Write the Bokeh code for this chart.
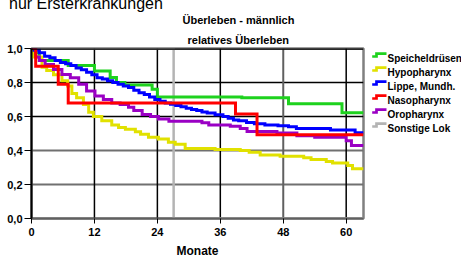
from bokeh.plotting import figure
from bokeh.models import Range1d, FixedTicker, Span, Title, Div
from bokeh.layouts import row
from bokeh.core.properties import value
from bokeh.embed import file_html
from bokeh.resources import INLINE

# ---------------- data ----------------
month_ticks = [0, 12, 24, 36, 48, 60]
surv_ticks = [0.0, 0.2, 0.4, 0.6, 0.8, 1.0]
surv_tick_labels = ["0,0", "0,2", "0,4", "0,6", "0,8", "1,0"]
x_end = 63.3

series_names = ["Speicheldrüsen", "Hypopharynx", "Lippe, Mundh.",
                "Nasopharynx", "Oropharynx", "Sonstige Lok"]

speichel_t = [0, 0.5, 1.5, 7.0, 12.0, 15.0, 16.2, 17.8, 23.0, 24.0, 40.1, 49.0, 59.2, 63.3]
speichel_s = [1.0, 0.975, 0.93, 0.90, 0.868, 0.83, 0.80, 0.785, 0.76, 0.715, 0.71, 0.675, 0.622, 0.622]

hypo_t = [0, 0.3, 2.0, 2.9, 4.2, 5.8, 6.9, 7.7, 8.6, 9.9,
          10.9, 11.8, 13.4, 15.3, 16.6, 17.9, 19.8, 20.8, 22.3, 24.2,
          26.1, 27.4, 29.3, 35.0, 39.8, 41.5, 43.6, 47.4, 51.9, 53.3,
          56.2, 57.4, 60.3, 61.2, 63.3]
hypo_s = [1.0, 0.95, 0.89, 0.87, 0.845, 0.81, 0.78, 0.735, 0.71, 0.67,
          0.625, 0.60, 0.575, 0.55, 0.535, 0.525, 0.51, 0.495, 0.478, 0.468,
          0.448, 0.437, 0.412, 0.406, 0.40, 0.39, 0.373, 0.366, 0.357, 0.347,
          0.336, 0.326, 0.312, 0.292, 0.292]

lippe_t = [0, 0.5, 1.5, 2.5, 3.5, 4.5, 5.5, 6.5, 7.5, 8.5,
           9.5, 10.5, 11.5, 12.5, 13.5, 14.5, 15.5, 16.5, 17.5, 18.5,
           19.5, 20.5, 21.5, 22.5, 23.5, 24.5, 25.5, 26.5, 27.5, 28.5,
           29.5, 30.5, 31.5, 32.5, 33.5, 35.0, 36.5, 37.5, 38.5, 39.5,
           41.0, 42.5, 44.5, 47.0, 49.0, 50.5, 57.0, 61.7, 63.3]
lippe_s = [1.0, 0.99, 0.975, 0.955, 0.945, 0.93, 0.918, 0.91, 0.90, 0.885,
           0.875, 0.86, 0.845, 0.828, 0.82, 0.81, 0.80, 0.79, 0.78, 0.77,
           0.755, 0.74, 0.73, 0.715, 0.70, 0.69, 0.68, 0.672, 0.665, 0.657,
           0.648, 0.641, 0.635, 0.627, 0.62, 0.61, 0.60, 0.59, 0.58, 0.575,
           0.565, 0.558, 0.55, 0.545, 0.54, 0.53, 0.52, 0.505, 0.505]

naso_t = [0, 0.8, 5.1, 7.0, 38.9, 43.0, 63.3]
naso_s = [1.0, 0.895, 0.79, 0.68, 0.615, 0.493, 0.493]

oro_t = [0, 0.8, 1.5, 2.6, 4.2, 5.8, 7.4, 9.0, 10.5, 12.1,
         13.7, 15.3, 16.9, 18.5, 19.5, 21.1, 22.7, 24.2, 26.2, 32.5,
         33.8, 37.9, 39.8, 41.1, 46.8, 50.6, 54.0, 60.0, 61.0, 63.3]
oro_s = [1.0, 0.95, 0.93, 0.906, 0.876, 0.847, 0.828, 0.79, 0.75, 0.72,
         0.70, 0.68, 0.67, 0.655, 0.635, 0.612, 0.60, 0.585, 0.572, 0.563,
         0.55, 0.543, 0.53, 0.512, 0.503, 0.487, 0.478, 0.458, 0.43, 0.43]

sonst_t = [0, 27.1, 63.3]
sonst_s = [1.0, 0.0, 0.0]

# ---------------- styles / layout ----------------
FONT = "Liberation Sans"
colors = ["#1ed21e", "#e1e100", "#0000ff", "#ff0000", "#9a00c4", "#b4b4b4"]

MAIN_W, LEG_W, H = 365, 96, 260
B_LEFT, B_RIGHT, B_TOP, B_BOTTOM = 31, 2, 48, 42

p = figure(width=MAIN_W, height=H, output_backend="svg", toolbar_location=None,
           title=None, x_range=Range1d(0, x_end), y_range=Range1d(0, 1.0),
           min_border_left=B_LEFT, min_border_right=B_RIGHT,
           min_border_top=B_TOP, min_border_bottom=B_BOTTOM)
p.outline_line_color = "#808080"
p.outline_line_width = 2.5
p.xgrid.visible = False
p.ygrid.visible = False
p.background_fill_color = "white"
p.border_fill_color = "white"

# grid lines
hgrid_style = {0.2: ("#707070", 2), 0.4: ("#707070", 2), 0.6: ("black", 1.5), 0.8: ("black", 1.5)}
for v in surv_ticks:
    if v in hgrid_style:
        c, w = hgrid_style[v]
        p.add_layout(Span(location=v, dimension="width", line_color=c,
                          line_width=w, level="underlay"))
vgrid_style = {12: ("black", 1.5), 24: ("black", 1.5), 36: ("black", 1.5),
               48: ("#606060", 2), 60: ("black", 1.5)}
for v in month_ticks:
    if v in vgrid_style:
        c, w = vgrid_style[v]
        p.add_layout(Span(location=v, dimension="height", line_color=c,
                          line_width=w, level="underlay"))
# top frame edge in black
p.add_layout(Span(location=1.0, dimension="width", line_color="black", line_width=2.5))

# curves
all_t = [speichel_t, hypo_t, lippe_t, naso_t, oro_t, sonst_t]
all_s = [speichel_s, hypo_s, lippe_s, naso_s, oro_s, sonst_s]
order = [5, 0, 1, 2, 4, 3]
for i in order:
    p.step(all_t[i], all_s[i], mode="after", line_color=colors[i],
           line_width=3 if i != 5 else 2.5, line_join="miter")

# axes
p.xaxis.ticker = FixedTicker(ticks=month_ticks)
p.yaxis.ticker = FixedTicker(ticks=surv_ticks)
p.yaxis.major_label_overrides = dict(zip(surv_ticks, surv_tick_labels))
for ax in (p.xaxis[0], p.yaxis[0]):
    ax.minor_tick_line_color = None
    ax.major_tick_in = 0
    ax.major_tick_line_color = "black"
    ax.major_tick_line_width = 1
    ax.major_label_text_font = FONT
    ax.major_label_text_font_style = "bold"
    ax.major_label_text_font_size = "11px"
    ax.major_label_text_color = "black"
p.xaxis.major_tick_out = 5
p.xaxis.major_label_standoff = 4
p.xaxis.axis_line_color = "#606060"
p.xaxis.axis_line_width = 2
p.xaxis.axis_label = "Monate"
p.xaxis.axis_label_text_font = FONT
p.xaxis.axis_label_text_font_style = "bold"
p.xaxis.axis_label_text_font_size = "12px"
p.xaxis.axis_label_text_color = "black"
p.xaxis.axis_label_standoff = 5
p.yaxis.major_tick_out = 7
p.yaxis.major_label_standoff = 2
p.yaxis.axis_line_color = "black"
p.yaxis.axis_line_width = 2

# titles (nearest to frame first)
for txt, off, standoff in (("relatives Überleben", 156, 6), ("Überleben - männlich", 151, 5)):
    p.add_layout(Title(text=txt, align="left", offset=off, standoff=standoff,
                       text_font=FONT, text_font_style="bold",
                       text_font_size="11px", text_color="black"), "above")

# legend figure: its data coordinates equal page pixels
lg = figure(width=LEG_W, height=H, output_backend="svg", toolbar_location=None,
            title=None, x_range=Range1d(MAIN_W, MAIN_W + LEG_W),
            y_range=Range1d(H - B_BOTTOM, B_TOP),
            min_border_left=0, min_border_right=0,
            min_border_top=B_TOP, min_border_bottom=B_BOTTOM)
lg.axis.visible = False
lg.grid.visible = False
lg.outline_line_color = None
lg.background_fill_color = "white"
lg.border_fill_color = "white"

ICON_X0, ICON_XS, ICON_X1, TEXT_X = 371.7, 376.0, 386.0, 387.0
ROW0, ROW_STEP = 54.5, 14.0
for i, name in enumerate(series_names):
    c = ROW0 + ROW_STEP * i
    lg.line([ICON_X0, ICON_XS, ICON_XS, ICON_X1], [c + 1.5, c + 1.5, c - 1.3, c - 1.3],
            line_color=colors[i], line_width=2.7, line_join="miter")
lg.text(x=[TEXT_X] * len(series_names),
        y=[ROW0 + 3.6 + ROW_STEP * i for i in range(len(series_names))],
        text=series_names, text_font=value(FONT), text_font_style="bold",
        text_font_size="10px", text_baseline="alphabetic", text_color="black")

# page heading, cut off at the top edge as in the source picture
heading = Div(text="nur Ersterkrankungen", width=200, height=17,
              styles={"position": "absolute", "top": "-9px", "left": "4px",
                      "font-family": "Liberation Sans", "font-size": "16px",
                      "line-height": "16px", "white-space": "nowrap",
                      "color": "black", "z-index": "5"})

layout = row(p, lg, heading)
open("out.html", "w").write(file_html(layout, INLINE))
